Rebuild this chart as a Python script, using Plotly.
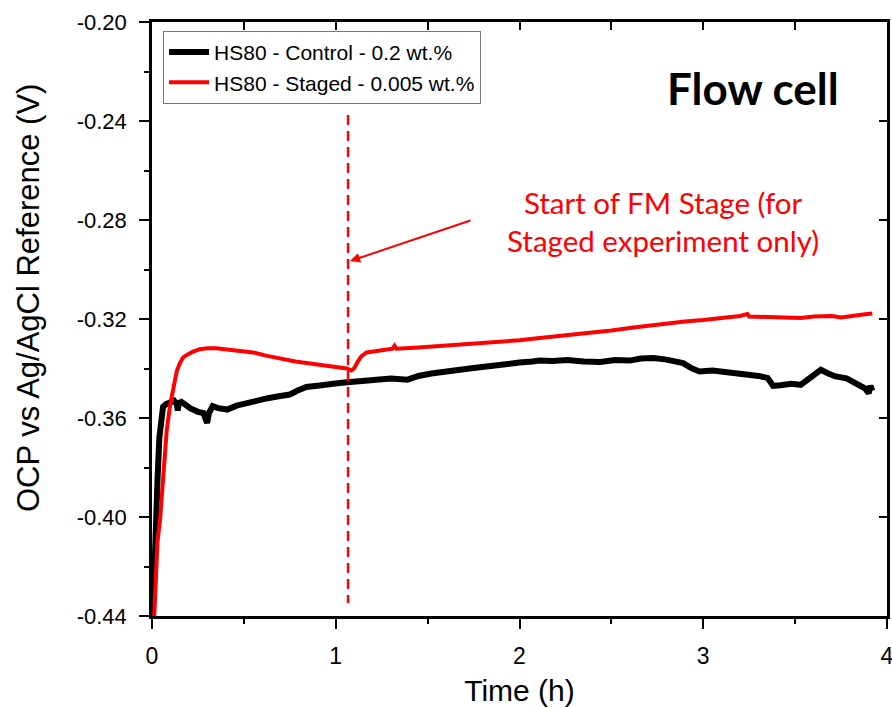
import plotly.graph_objects as go

# ---- data ----
red_t = [0.012, 0.02, 0.03, 0.044, 0.06, 0.08, 0.098, 0.115, 0.135, 0.152, 0.17, 0.19, 0.22, 0.26,
         0.30, 0.35, 0.40, 0.48, 0.55, 0.62, 0.70, 0.78, 0.84, 0.90, 0.96, 1.02, 1.06, 1.085, 1.10,
         1.12, 1.14, 1.168, 1.22, 1.31, 1.32, 1.33, 1.45, 1.55, 1.65, 1.75, 1.89, 2.00, 2.11, 2.2,
         2.3, 2.4, 2.5, 2.62, 2.75, 2.9, 3.0, 3.1, 3.2, 3.24, 3.25, 3.35, 3.45, 3.53, 3.6, 3.7,
         3.75, 3.8, 3.87, 3.92]
red_v = [-0.44, -0.425, -0.41, -0.401, -0.383, -0.365, -0.355, -0.3475, -0.341, -0.3378, -0.3355,
         -0.3345, -0.3333, -0.3322, -0.3318, -0.3318, -0.3322, -0.3326, -0.3335, -0.3348, -0.3362,
         -0.3372, -0.3378, -0.3383, -0.3388, -0.3394, -0.3400, -0.3408, -0.3400, -0.3372, -0.3350,
         -0.3335, -0.3328, -0.3320, -0.3308, -0.3320, -0.3315, -0.3310, -0.3304, -0.3300, -0.3295,
         -0.3286, -0.3277, -0.3270, -0.3262, -0.3256, -0.3246, -0.3234, -0.3222, -0.3210, -0.3204,
         -0.3196, -0.3188, -0.3180, -0.3190, -0.3192, -0.3192, -0.3196, -0.3190, -0.3188, -0.3194,
         -0.3188, -0.3182, -0.3178]

blk_t = [0.005, 0.012, 0.02, 0.03, 0.04, 0.048, 0.06, 0.075, 0.098, 0.12, 0.135, 0.14, 0.145, 0.16,
         0.18, 0.207, 0.25, 0.28, 0.295, 0.30, 0.31, 0.33, 0.36, 0.41, 0.46, 0.51, 0.57, 0.63, 0.69,
         0.75, 0.79, 0.84, 0.90, 0.96, 1.02, 1.08, 1.14, 1.2, 1.3, 1.39, 1.45, 1.52, 1.57, 1.64,
         1.70, 1.75, 1.82, 1.89, 1.93, 2.0, 2.07, 2.11, 2.18, 2.26, 2.35, 2.44, 2.52, 2.6, 2.66,
         2.73, 2.8, 2.89, 2.94, 2.98, 3.05, 3.1, 3.16, 3.22, 3.3, 3.35, 3.38, 3.42, 3.48, 3.53,
         3.58, 3.64, 3.68, 3.72, 3.78, 3.82, 3.85, 3.88, 3.90, 3.91, 3.92]
blk_v = [-0.44, -0.42, -0.405, -0.385, -0.368, -0.360, -0.3555, -0.3545, -0.3535, -0.3530, -0.3545,
         -0.3570, -0.3540, -0.3535, -0.3545, -0.3560, -0.3575, -0.3580, -0.3610, -0.3620, -0.3580,
         -0.3552, -0.3560, -0.3566, -0.3550, -0.3540, -0.3527, -0.3520, -0.3512, -0.3505, -0.3490,
         -0.3475, -0.3470, -0.3462, -0.3459, -0.3455, -0.3450, -0.3445, -0.3440, -0.3445, -0.3430,
         -0.3420, -0.3414, -0.3408, -0.3402, -0.3398, -0.3392, -0.3385, -0.3378, -0.3376, -0.3372,
         -0.3368, -0.3370, -0.3366, -0.3372, -0.3374, -0.3366, -0.3368, -0.3360, -0.3358, -0.3364,
         -0.3378, -0.3400, -0.3412, -0.3408, -0.3412, -0.3414, -0.3420, -0.3430, -0.3438, -0.3470,
         -0.3468, -0.3462, -0.3466, -0.3440, -0.3405, -0.3420, -0.3432, -0.3440, -0.3455, -0.3472,
         -0.3480, -0.3500, -0.3470, -0.3490]

series_names = ["HS80 - Control - 0.2 wt.%", "HS80 - Staged - 0.005 wt.%"]
stage_start = 1.067
stage_line_v = [-0.2376, -0.4347]
x_ticks = [0, 1, 2, 3, 4]
y_ticks = [-0.20, -0.24, -0.28, -0.32, -0.36, -0.40, -0.44]

RED = "#ff0000"
AX_FONT = "Liberation Sans, Arial, sans-serif"

fig = go.Figure()
fig.add_trace(go.Scatter(x=blk_t, y=blk_v, mode="lines", name=series_names[0],
                         line=dict(color="black", width=6)))
fig.add_trace(go.Scatter(x=red_t, y=red_v, mode="lines", name=series_names[1],
                         line=dict(color=RED, width=4)))

# dashed stage line
fig.add_shape(type="line", xref="x", yref="y", x0=stage_start, x1=stage_start,
              y0=stage_line_v[0], y1=stage_line_v[1],
              line=dict(color=RED, width=2.5, dash="10px,6px"))

# arrow
fig.add_annotation(x=1.078, y=-0.2966, ax=1.741, ay=-0.280, xref="x", yref="y",
                   axref="x", ayref="y", text="", showarrow=True,
                   arrowhead=2, arrowsize=1, arrowwidth=2, arrowcolor=RED)
fig.add_annotation(x=2.78, y=-0.2805, xref="x", yref="y", showarrow=False,
                   text="Start of FM Stage (for<br>Staged experiment only)",
                   font=dict(family="Lato, sans-serif", size=29.5, color=RED), align="center")
fig.add_annotation(x=3.27, y=-0.2267, xref="x", yref="y", showarrow=False,
                   text="<b>Flow cell</b>",
                   font=dict(family="Lato, sans-serif", size=44, color="black"))

# y-axis title (placed as rotated text)
fig.add_annotation(x=-0.169, y=0.535, xref="paper", yref="paper", showarrow=False,
                   text="OCP vs Ag/AgCl Reference (V)", textangle=-90,
                   xanchor="center", yanchor="middle",
                   font=dict(family=AX_FONT, size=31, color="black"))

axis_common = dict(showline=True, linecolor="black", linewidth=2.5, showgrid=False,
                   zeroline=False, ticks="outside", tickcolor="black", tickwidth=2,
                   ticklen=10, ticklabelstandoff=8, ticklabeloverflow="allow")

fig.update_xaxes(range=[0, 4], tickvals=x_ticks, ticktext=[str(v) for v in x_ticks],
                 tickfont=dict(family=AX_FONT, size=23, color="black"),
                 title=dict(text="Time (h)", font=dict(family=AX_FONT, size=30, color="black"),
                            standoff=12),
                 minor=dict(ticks="outside", ticklen=5, tickwidth=2, tickcolor="black",
                            dtick=0.5, tick0=0),
                 **axis_common)
fig.update_yaxes(range=[-0.44, -0.20], tickvals=y_ticks,
                 ticktext=[f"{v:.2f}" for v in y_ticks],
                 tickfont=dict(family=AX_FONT, size=22, color="black"),
                 minor=dict(ticks="outside", ticklen=5, tickwidth=2, tickcolor="black",
                            dtick=0.02, tick0=-0.44),
                 **axis_common)

# mirrored frame with inward ticks
fig.update_layout(
    xaxis2=dict(overlaying="x", side="top", range=[0, 4], showline=True, linecolor="black",
                linewidth=2.5, ticks="inside", ticklen=8, tickwidth=2, tickcolor="black",
                dtick=0.5, tick0=0, showticklabels=False, showgrid=False, zeroline=False),
    yaxis2=dict(overlaying="y", side="right", range=[-0.44, -0.20], showline=True,
                linecolor="black", linewidth=2.5, ticks="inside", ticklen=8, tickwidth=2,
                tickcolor="black", dtick=0.04, tick0=-0.44, showticklabels=False,
                showgrid=False, zeroline=False),
)
fig.add_trace(go.Scatter(x=[None], y=[None], xaxis="x2", yaxis="y2", showlegend=False,
                         hoverinfo="skip"))

fig.update_layout(
    width=892, height=708, autosize=False,
    margin=dict(l=152, r=5, t=22, b=92, autoexpand=False),
    paper_bgcolor="white", plot_bgcolor="white",
    showlegend=True,
    legend=dict(x=0.015, y=0.985, xanchor="left", yanchor="top",
                bordercolor="#777777", borderwidth=1, bgcolor="white",
                font=dict(family=AX_FONT, size=21, color="black"),
                tracegroupgap=0, itemwidth=40),
)

fig.write_html("out.html")
